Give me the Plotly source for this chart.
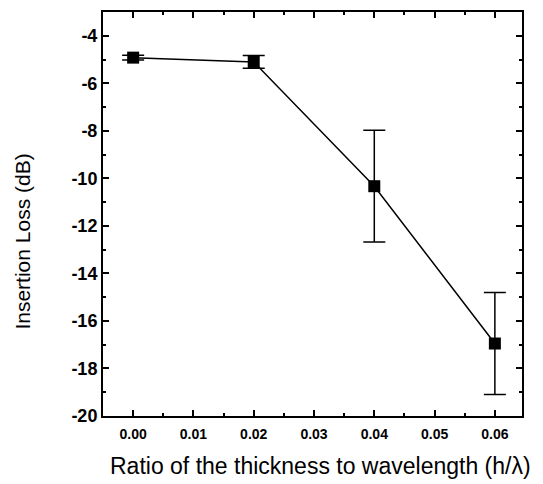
import plotly.graph_objects as go

ratio = [0.00, 0.02, 0.04, 0.06]
insertion_loss = [-4.92, -5.1, -10.33, -16.95]
loss_error = [0.1, 0.27, 2.35, 2.15]

x_tickvals = [0.00, 0.01, 0.02, 0.03, 0.04, 0.05, 0.06]
x_ticktext = ["0.00", "0.01", "0.02", "0.03", "0.04", "0.05", "0.06"]
y_tickvals = [-20, -18, -16, -14, -12, -10, -8, -6, -4]
y_ticktext = ["-20", "-18", "-16", "-14", "-12", "-10", "-8", "-6", "-4"]

x_title = "Ratio of the thickness to wavelength (h/λ)"
y_title = "Insertion Loss (dB)"

fig = go.Figure()
fig.add_trace(go.Scatter(
    x=ratio, y=insertion_loss,
    mode="lines+markers",
    line=dict(color="black", width=1.5),
    marker=dict(symbol="square", size=12, color="black"),
    error_y=dict(type="data", array=loss_error, visible=True,
                 color="black", thickness=1.5, width=11),
    showlegend=False,
))

font_family = "Liberation Sans, Arial, sans-serif"
axis_common = dict(
    showline=True, linecolor="black", linewidth=2,
    mirror="allticks", ticks="inside", ticklen=6, tickwidth=1.5,
    tickcolor="black", showgrid=False, zeroline=False,
)
fig.update_xaxes(
    range=[-0.005, 0.0645], tickmode="array", tickvals=x_tickvals, ticktext=x_ticktext,
    tickfont=dict(size=14, color="black", family=font_family, weight="bold"),
    ticklabelstandoff=4,
    minor=dict(ticks="inside", ticklen=3, dtick=0.005, tick0=0, tickcolor="black", tickwidth=1.5),
    **axis_common,
)
fig.update_yaxes(
    range=[-20, -3], tickmode="array", tickvals=y_tickvals, ticktext=y_ticktext,
    tickfont=dict(size=18, color="black", family=font_family, weight="bold"),
    minor=dict(ticks="inside", ticklen=3, dtick=1, tick0=-20, tickcolor="black", tickwidth=1.5),
    **axis_common,
)
fig.add_annotation(
    text=x_title, xref="paper", yref="paper", x=0.52, y=-0.123,
    xanchor="center", yanchor="middle", showarrow=False,
    font=dict(size=23, color="black", family=font_family),
)
fig.add_annotation(
    text=y_title, xref="paper", yref="paper", x=-0.193, y=0.432,
    xanchor="center", yanchor="middle", showarrow=False, textangle=-90,
    font=dict(size=21, color="black", family=font_family),
)
fig.update_layout(
    width=543, height=484,
    margin=dict(l=103, r=21, t=10, b=68),
    plot_bgcolor="white", paper_bgcolor="white",
    font=dict(family=font_family, color="black"),
)
fig.write_html("out.html")
